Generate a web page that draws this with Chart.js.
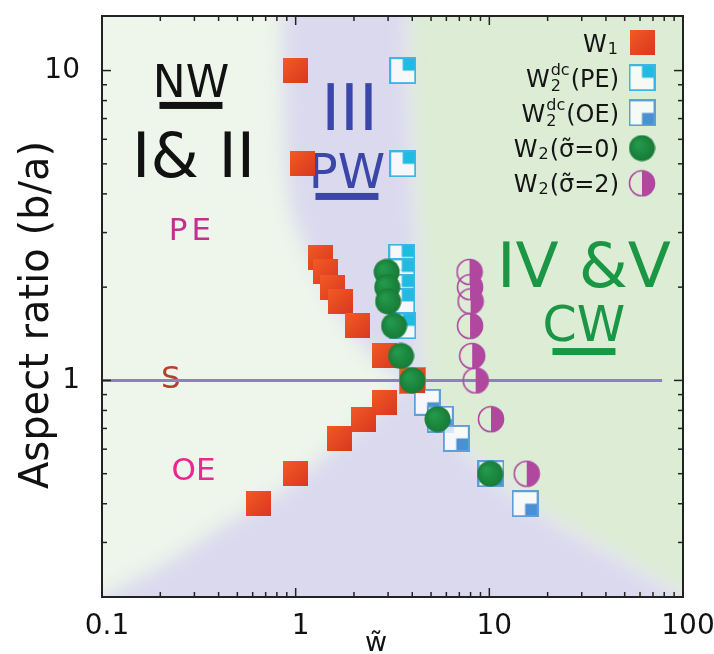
<!DOCTYPE html>
<html>
  <head>
    <title>Aspect ratio vs w - phase diagram</title>
    <style>
      html, body { margin: 0; padding: 0; background: #fff; }
    </style>
  </head>
  <body>
    <canvas id="phaseChart" width="714" height="654"></canvas>

    <script src="https://cdn.jsdelivr.net/npm/chart.js@4/dist/chart.umd.min.js"></script>
    <script>
      // values
      const w1X = [1.0, 1.08, 1.34, 1.43, 1.55, 1.71, 2.09, 2.87, 4.0, 2.89, 2.24, 1.68, 1.0, 0.64];
      const w1Y = [10, 5, 2.5, 2.24, 2.0, 1.8, 1.5, 1.2, 1.0, 0.85, 0.75, 0.65, 0.5, 0.4];
      const peX = [3.57, 3.57, 3.53, 3.53, 3.53, 3.53, 3.58, 4.0];
      const peY = [10, 5, 2.5, 2.24, 2.0, 1.8, 1.5, 1.0];
      const oeX = [4.78, 5.58, 6.75, 10.2, 15.3];
      const oeY = [0.85, 0.75, 0.65, 0.5, 0.4];
      const s0X = [2.95, 2.97, 3.0, 3.22, 3.5, 4.0, 5.4, 10.1];
      const s0Y = [2.24, 2.0, 1.8, 1.5, 1.2, 1.0, 0.75, 0.5];
      const s2X = [7.9, 7.95, 8.0, 7.95, 8.15, 8.5, 10.2, 15.6];
      const s2Y = [2.24, 2.0, 1.8, 1.5, 1.2, 1.0, 0.75, 0.5];
      const sLineX = [0.1, 78];
      const sLineY = [1, 1];

      const xTicks = [0.1, 1, 10, 100];
      const yTicks = [1, 10];

      const seriesNames = [
        { base: 'W', sub: '1' },
        { base: 'W', sub: '2', sup: 'dc', tail: '(PE)' },
        { base: 'W', sub: '2', sup: 'dc', tail: '(OE)' },
        { base: 'W', sub: '2', tail: '(\u03c3\u0303=0)' },
        { base: 'W', sub: '2', tail: '(\u03c3\u0303=2)' }
      ];

      // phase regions (boundaries in data units)
      const purpleRegion = [[0.85, 40], [0.86, 10], [0.88, 5], [0.95, 3.5], [1.12, 2.7], [1.35, 2.15], [1.65, 1.7],
        [2.1, 1.35], [2.8, 1.12], [3.8, 1.0], [2.5, 0.76], [1.45, 0.58], [0.86, 0.44], [0.46, 0.35], [0.2, 0.25],
        [0.1, 0.2], [0.05, 0.17], [0.05, 0.1], [200, 0.1], [100, 0.2], [45, 0.27], [20, 0.36], [11, 0.47],
        [8.0, 0.57], [6.2, 0.7], [5.0, 0.85], [4.4, 1.0], [4.4, 2], [4.1, 4], [3.8, 10], [3.75, 40]];
      const greenRegion = [[3.75, 40], [3.8, 10], [4.1, 4], [4.4, 2], [4.4, 1.0], [5.0, 0.85], [6.2, 0.7], [8.0, 0.57],
        [11, 0.47], [20, 0.36], [45, 0.27], [100, 0.2], [300, 0.1], [300, 40]];

      const notes = [
        { text: 'NW', x: 0.288, y: 8.22, size: 44, color: '#111', underline: [63, 5, 7] },
        { text: 'I& II', x: 0.297, y: 4.54, size: 62, color: '#111' },
        { text: 'III', x: 1.897, y: 6.43, size: 64, color: '#3b47a8' },
        { text: 'PW', x: 1.84, y: 4.18, size: 48, color: '#3b47a8', underline: [63, 5, 7] },
        { text: 'PE', x: 0.291, y: 2.84, size: 31, color: '#c0308f', spacing: 4 },
        { text: 'S', x: 0.227, y: 0.944, size: 31, color: '#b5402a' },
        { text: 'OE', x: 0.297, y: 0.476, size: 31, color: '#ec2890' },
        { text: 'IV &V', x: 30.8, y: 2.0, size: 63, color: '#1a9645' },
        { text: 'CW', x: 30.8, y: 1.34, size: 49, color: '#1a9645', underline: [63, 7, 7] }
      ];

      const FONT = "'DejaVu Sans', sans-serif";

      function makeMarker(size, draw) {
        const c = document.createElement('canvas');
        c.width = size;
        c.height = size;
        draw(c.getContext('2d'), size);
        return c;
      }

      const squareMarker = makeMarker(25, (g, s) => {
        const grad = g.createLinearGradient(0, 0, s, s);
        grad.addColorStop(0, '#f45a26');
        grad.addColorStop(1, '#d8381f');
        g.fillStyle = grad;
        g.fillRect(0, 0, s, s);
      });

      function quarterSquare(line, fill, bottom) {
        return makeMarker(27, (g, s) => {
          g.fillStyle = 'rgba(255,255,255,0.75)';
          g.fillRect(1, 1, s - 2, s - 2);
          g.fillStyle = fill;
          g.fillRect(s / 2, bottom ? s / 2 : 1, s / 2 - 1, s / 2 - 1);
          g.strokeStyle = line;
          g.lineWidth = 2;
          g.strokeRect(1, 1, s - 2, s - 2);
        });
      }
      const peMarker = quarterSquare('#3db6e6', '#1fbbe3', false);
      const oeMarker = quarterSquare('#5f9fd8', '#4b90d2', true);

      const dotMarker = makeMarker(27, (g, s) => {
        const grad = g.createRadialGradient(s * 0.35, s * 0.35, 2, s / 2, s / 2, s / 2);
        grad.addColorStop(0, '#23984a');
        grad.addColorStop(1, '#177a36');
        g.fillStyle = grad;
        g.beginPath();
        g.arc(s / 2, s / 2, s / 2 - 0.5, 0, Math.PI * 2);
        g.fill();
      });

      const halfMarker = makeMarker(28, (g, s) => {
        const c = s / 2, r = s / 2 - 1.5;
        g.fillStyle = '#b048a0';
        g.beginPath();
        g.arc(c, c, r, -Math.PI / 2, Math.PI / 2);
        g.closePath();
        g.fill();
        g.strokeStyle = '#b048a0';
        g.lineWidth = 1.6;
        g.beginPath();
        g.arc(c, c, r, 0, Math.PI * 2);
        g.stroke();
      });

      const legendMarkers = [squareMarker, peMarker, oeMarker, dotMarker, halfMarker];

      function pts(xs, ys) {
        return xs.map((x, i) => ({ x: x, y: ys[i] }));
      }

      function isTick(v, list) {
        return list.find(t => Math.abs(v - t) < t * 1e-6);
      }

      const phasePlugin = {
        id: 'phase',
        beforeDatasetsDraw(chart) {
          const { ctx, chartArea: a, scales: { x, y } } = chart;
          ctx.save();
          ctx.beginPath();
          ctx.rect(a.left, a.top, a.right - a.left, a.bottom - a.top);
          ctx.clip();
          ctx.fillStyle = '#eef5eb';
          ctx.fillRect(a.left, a.top, a.right - a.left, a.bottom - a.top);
          ctx.filter = 'blur(9px)';
          const poly = (list, col) => {
            ctx.fillStyle = col;
            ctx.beginPath();
            list.forEach(([vx, vy], i) => {
              const px = x.getPixelForValue(vx), py = y.getPixelForValue(vy);
              if (i === 0) ctx.moveTo(px, py); else ctx.lineTo(px, py);
            });
            ctx.closePath();
            ctx.fill();
          };
          poly(greenRegion, '#dcecd5');
          poly(purpleRegion, '#dbd9ee');
          ctx.filter = 'none';

          // region labels
          ctx.textAlign = 'center';
          ctx.textBaseline = 'alphabetic';
          notes.forEach(n => {
            const px = x.getPixelForValue(n.x), py = y.getPixelForValue(n.y);
            ctx.font = n.size + 'px ' + FONT;
            ctx.fillStyle = n.color;
            ctx.letterSpacing = (n.spacing || 0) + 'px';
            ctx.fillText(n.text, px, py);
            if (n.underline) {
              const [w, gap, h] = n.underline;
              ctx.fillRect(px - w / 2, py + gap, w, h);
            }
          });
          ctx.letterSpacing = '0px';
          ctx.restore();
        },
        afterDatasetsDraw(chart) {
          const { ctx, chartArea: a, scales: { x, y } } = chart;
          ctx.save();
          // frame and inward ticks
          ctx.strokeStyle = '#222';
          ctx.lineWidth = 1.5;
          const seg = (x1, y1, x2, y2) => {
            ctx.beginPath();
            ctx.moveTo(x1, y1);
            ctx.lineTo(x2, y2);
            ctx.stroke();
          };
          for (let d = -1; d <= 2; d++) {
            for (let m = 1; m <= 9; m++) {
              const v = m * Math.pow(10, d);
              if (v > 100.0001) continue;
              const len = m === 1 ? 9 : 5;
              const px = x.getPixelForValue(v);
              seg(px, a.bottom, px, a.bottom - len);
              seg(px, a.top, px, a.top + len);
              if (v >= 0.19999 && v <= 15.0001) {
                const py = y.getPixelForValue(v);
                seg(a.left, py, a.left + len, py);
                seg(a.right, py, a.right - len, py);
              }
            }
          }
          ctx.lineWidth = 2;
          ctx.strokeRect(a.left, a.top, a.right - a.left, a.bottom - a.top);

          // legend
          const right = 618, mx = 642, y0 = 42.5, step = 35.2;
          ctx.fillStyle = '#151515';
          ctx.textBaseline = 'alphabetic';
          ctx.textAlign = 'left';
          seriesNames.forEach((n, i) => {
            const cy = y0 + i * step, base = cy + 9;
            ctx.font = '24px ' + FONT;
            const wb = ctx.measureText(n.base).width;
            const wt = n.tail ? ctx.measureText(n.tail).width : 0;
            ctx.font = '16px ' + FONT;
            const ws = Math.max(ctx.measureText(n.sub || '').width, ctx.measureText(n.sup || '').width);
            let x0 = right - wb - ws - wt - 1;
            ctx.font = '24px ' + FONT;
            ctx.fillText(n.base, x0, base);
            ctx.font = '16px ' + FONT;
            ctx.fillText(n.sub, x0 + wb + 1, base + (n.sup ? 4 : 2));
            if (n.sup) ctx.fillText(n.sup, x0 + wb + 1, base - 12);
            if (n.tail) {
              ctx.font = '24px ' + FONT;
              ctx.fillText(n.tail, x0 + wb + ws + 2, base);
            }
            const mk = legendMarkers[i];
            ctx.drawImage(mk, mx - mk.width / 2, cy - mk.height / 2);
          });

          // axis titles
          ctx.fillStyle = '#111';
          ctx.font = '40px ' + FONT;
          ctx.textAlign = 'center';
          ctx.textBaseline = 'middle';
          ctx.save();
          ctx.translate(38, 315);
          ctx.rotate(-Math.PI / 2);
          ctx.fillText('Aspect ratio (b/a)', 0, 0);
          ctx.restore();
          ctx.font = '27px ' + FONT;
          ctx.textBaseline = 'alphabetic';
          ctx.fillText('w\u0303', 376, 651);
          ctx.restore();
        }
      };

      const ctx = document.getElementById('phaseChart').getContext('2d');

      const chart = new Chart(ctx, {
        type: 'scatter',
        data: {
          datasets: [
            { label: 'W2(s=2)', data: pts(s2X, s2Y), pointStyle: halfMarker, pointRadius: 13, order: 1 },
            { label: 'W2(s=0)', data: pts(s0X, s0Y), pointStyle: dotMarker, pointRadius: 13, order: 2 },
            { label: 'W1', data: pts(w1X, w1Y), pointStyle: squareMarker, pointRadius: 13, order: 3 },
            { label: 'W2dc(OE)', data: pts(oeX, oeY), pointStyle: oeMarker, pointRadius: 13, order: 4 },
            { label: 'W2dc(PE)', data: pts(peX, peY), pointStyle: peMarker, pointRadius: 13, order: 5 },
            {
              label: 'S', data: pts(sLineX, sLineY), showLine: true, pointRadius: 0,
              borderColor: '#8b80c2', borderWidth: 3, order: 6
            }
          ]
        },
        options: {
          responsive: false,
          animation: false,
          events: [],
          layout: { padding: { top: 16, right: 31, left: 0, bottom: 0 } },
          plugins: {
            legend: { display: false },
            tooltip: { enabled: false }
          },
          scales: {
            x: {
              type: 'logarithmic',
              min: 0.1,
              max: 100,
              grid: { display: false },
              border: { display: false },
              ticks: {
                autoSkip: false,
                maxRotation: 0,
                padding: 5,
                labelOffset: 5,
                color: '#111',
                font: { family: 'DejaVu Sans', size: 28 },
                callback: v => isTick(v, xTicks) ? String(isTick(v, xTicks)) : ''
              },
              afterFit: s => {
                s.height = 57;
                s.paddingLeft = 0;
                s.paddingRight = 0;
              }
            },
            y: {
              type: 'logarithmic',
              min: 0.2,
              max: 15,
              grid: { display: false },
              border: { display: false },
              ticks: {
                autoSkip: false,
                padding: 14,
                color: '#111',
                font: { family: 'DejaVu Sans', size: 28 },
                callback: v => isTick(v, yTicks) ? String(isTick(v, yTicks)) : ''
              },
              afterFit: s => {
                s.width = 102;
                s.paddingTop = 0;
                s.paddingBottom = 0;
              }
            }
          }
        },
        plugins: [phasePlugin]
      });
    </script>
  </body>
</html>
